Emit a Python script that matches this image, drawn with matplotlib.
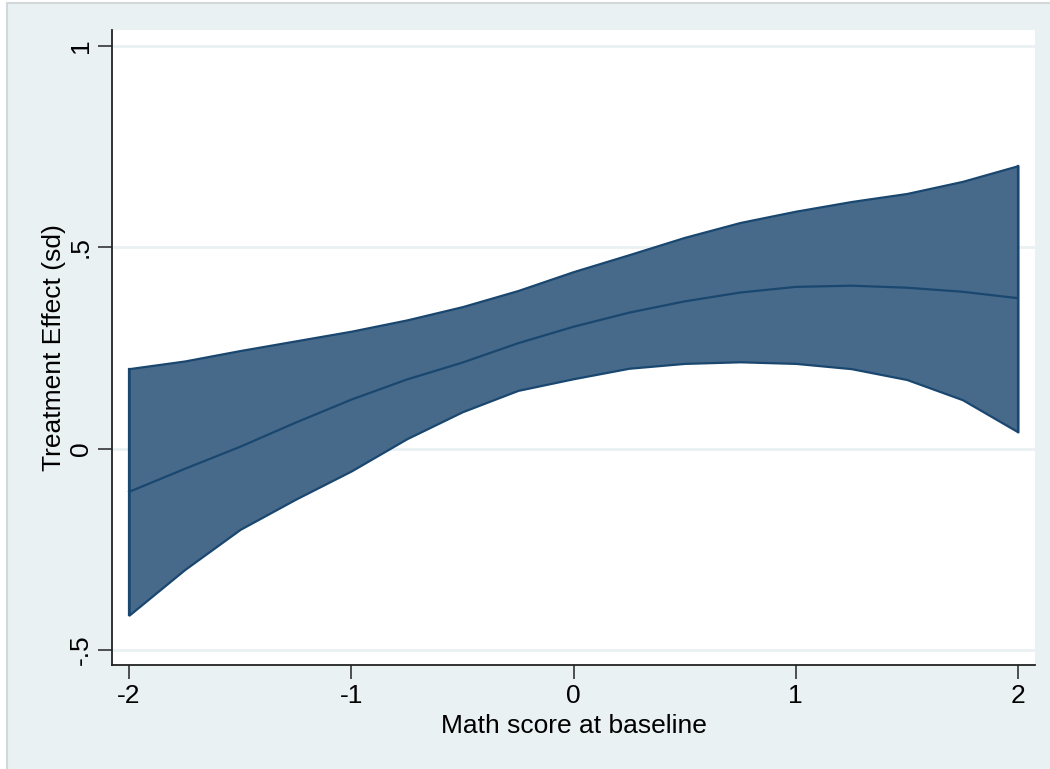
import matplotlib
matplotlib.use("Agg")
import matplotlib.pyplot as plt
import matplotlib.patches as mpatches

plt.rcParams['font.family'] = ['Liberation Sans', 'DejaVu Sans']

# values
x_vals = [-2.0, -1.75, -1.5, -1.25, -1.0, -0.75, -0.5, -0.25, 0.0,
          0.25, 0.5, 0.75, 1.0, 1.25, 1.5, 1.75, 2.0]
effect = [-0.107, -0.05, 0.005, 0.065, 0.122, 0.172, 0.214, 0.262, 0.303,
          0.338, 0.366, 0.388, 0.402, 0.405, 0.400, 0.390, 0.374]
upper = [0.199, 0.218, 0.244, 0.268, 0.292, 0.320, 0.353, 0.393, 0.440,
         0.482, 0.525, 0.562, 0.590, 0.614, 0.634, 0.664, 0.703]
lower = [-0.413, -0.30, -0.20, -0.125, -0.055, 0.025, 0.092, 0.145, 0.174,
         0.200, 0.212, 0.216, 0.212, 0.199, 0.172, 0.122, 0.042]

x_ticks = [-2, -1, 0, 1, 2]
x_ticklabels = ['-2', '-1', '0', '1', '2']
y_ticks = [-0.5, 0, 0.5, 1]
y_ticklabels = ['-.5', '0', '.5', '1']

bg = '#eaf1f3'
fill_col = '#476a8a'
line_col = '#1a476f'
fs = 19

fig = plt.figure(figsize=(10.5, 7.69), dpi=100)
fig.patch.set_facecolor('white')
# outer stata-style panel
fig.patches.append(mpatches.Rectangle((7 / 1050, -0.01), 1.0, 1 - 3 / 769 + 0.01,
                                      transform=fig.transFigure, facecolor=bg,
                                      edgecolor='#d2d7d9', linewidth=1.5, zorder=-10))

ax = fig.add_axes([112 / 1050, (769 - 665) / 769, (1035 - 112) / 1050, (665 - 30) / 769])
ax.set_zorder(1)
ax.set_facecolor('white')

ax.fill_between(x_vals, lower, upper, facecolor=fill_col, edgecolor=line_col,
                linewidth=1.6, zorder=2, joinstyle='round')
ax.plot([x_vals[0], x_vals[0]], [lower[0], upper[0]], color=line_col, lw=1.6, zorder=3)
ax.plot([x_vals[-1], x_vals[-1]], [lower[-1], upper[-1]], color=line_col, lw=1.6, zorder=3)
ax.plot(x_vals, effect, color=line_col, linewidth=1.6, zorder=3, solid_joinstyle='round')

ax.set_xlim(-2.077, 2.077)
ax.set_ylim(-0.537, 1.04)

ax.set_yticks(y_ticks)
ax.set_yticklabels(y_ticklabels, rotation=90, va='center', fontsize=fs)
ax.set_xticks(x_ticks)
ax.set_xticklabels(x_ticklabels, fontsize=fs)
ax.tick_params(axis='both', direction='out', length=10, width=1.2, color='#333333', pad=4)
ax.grid(axis='y', color='#eaf1f3', linewidth=2, zorder=1)
ax.set_axisbelow(True)

for side in ['top', 'right']:
    ax.spines[side].set_visible(False)
for side in ['left', 'bottom']:
    ax.spines[side].set_color('#222222')
    ax.spines[side].set_linewidth(1.3)

ax.set_xlabel('Math score at baseline', fontsize=fs, labelpad=4)
ax.set_ylabel('Treatment Effect (sd)', fontsize=fs, labelpad=2)

fig.savefig('out.png', dpi=100, facecolor=fig.get_facecolor())
